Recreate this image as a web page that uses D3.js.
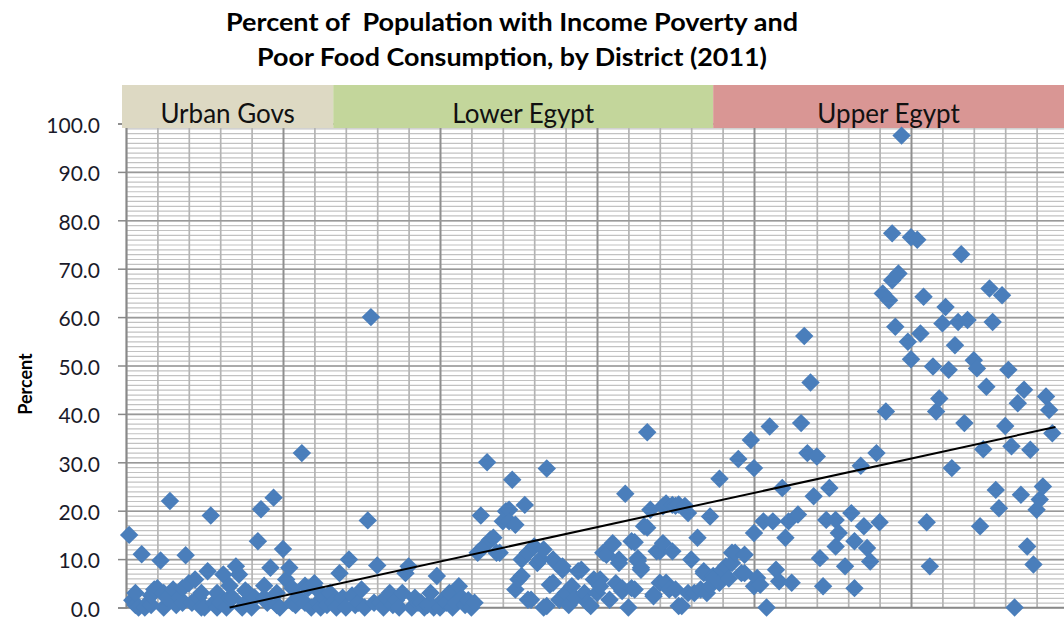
<!DOCTYPE html>
<html>
<head>
<meta charset="utf-8">
<script src="https://cdnjs.cloudflare.com/ajax/libs/d3/7.8.5/d3.min.js"></script>
<style>
  body { margin: 0; background: #fff; }
  svg { display: block; font-family: Lato, "Open Sans", sans-serif; }
</style>
</head>
<body>
<div id="chart"></div>
<script>
var titleLines = [
  "Percent of  Population with Income Poverty and",
  "Poor Food Consumption, by District (2011)"
];
var yLabel = "Percent";

// district groups along the x axis (district number where each group starts / ends)
var regionNames = ["Urban Govs", "Lower Egypt", "Upper Egypt"];
var regionBreaks = [0, 66, 187, 300];

var yTickValues = [0, 10, 20, 30, 40, 50, 60, 70, 80, 90, 100];

// [district number, percent]
var urbanGovs = [
  [1,15],[2,1.5],[3,0.5],[3,3],[4,0],[5,11],[6,0],[7,1],[8,0.5],[8,2.5],[9,3.7],[10,4],
  [11,9.7],[12,0],[12,3],[13,2],[14,22],[15,3.7],[16,0.5],[17,2],[18,1],[18,4],[19,10.8],
  [20,5],[21,1],[22,5.8],[23,2],[24,0],[24,3],[25,0],[26,7.5],[27,19],[28,1],[29,3],[29,0],
  [30,1],[31,6.8],[32,0],[33,2],[33,4.5],[34,2],[35,8.5],[36,6.8],[37,0],[38,1],[38,3.5],
  [39,3],[40,0],[41,2],[42,13.7],[43,20.3],[44,2],[44,4.5],[45,1],[46,8.2],[47,22.7],
  [48,0.5],[48,3],[49,0],[50,12.1],[51,5.8],[52,8.2],[53,4],[53,1],[54,0.5],[55,2],
  [56,31.9],[57,1],[57,4.5],[58,4],[59,0],[60,5],[61,1],[62,0],[62,3],[63,2],[64,0.5],[65,3]
];
var lowerEgypt = [
  [66,1],[67,0],[68,7.1],[69,2],[70,0],[71,9.9],[72,2.5],[73,0.5],[74,1],[75,3.7],[76,0],
  [77,18],[78,60],[79,1],[80,8.7],[81,1],[82,0],[83,2],[84,3],[85,0.5],[86,1.5],[87,0],
  [88,3],[89,7.1],[90,8.5],[91,0],[92,2],[93,1],[94,1],[95,0],[96,0.5],[97,3],[98,0],
  [99,6.5],[100,0],[101,1.6],[102,1],[103,3],[104,0],[105,1],[106,4.4],[107,2],[108,0.5],
  [109,1.5],[110,0],[111,1],[112,11.3],[113,19],[114,12.6],[115,30],[116,14],[117,14.4],
  [118,11.3],[119,11.3],[120,17.8],[121,19.9],[122,20.2],[122,17.8],[123,26.4],[124,17.1],
  [124,3.7],[125,5.8],[126,6.5],[126,9.9],[127,21.2],[128,11.3],[128,1.6],[129,1.6],
  [130,12.6],[131,9.2],[132,10],[133,12],[133,0],[134,28.7],[134,0.3],[135,4.7],[136,9.9],
  [136,5.1],[137,9.2],[138,1.6],[139,7.8],[139,8.5],[140,3],[141,0.5],[142,4.4],[143,2],
  [144,7.5],[145,7.8],[146,3],[147,1],[148,0.3],[149,5.8],[150,3],[151,5.8],[151,4.4],
  [152,11.3],[153,10.9],[154,1.6],[155,13],[155,13.3],[156,5],[157,9.9],[157,9.2],[158,3.4],
  [158,4],[159,23.5],[160,0],[161,13.7],[161,4],[162,13.5],[162,3.7],[163,10.2],[163,9.6],
  [164,8.2],[164,7.8],[165,16.8],[166,16.5],[166,36.2],[167,20.2],[168,2.7],[168,2.3],
  [169,11.6],[170,11.6],[170,5.1],[171,13.3],[171,20.9],[172,21.5],[172,5.1],[173,3.7],
  [174,11.6],[174,21.2],[175,21],[175,3.7],[176,21.3],[176,0.3],[177,0.3],[178,21],[179,3],
  [179,19.5],[180,9.9],[181,3],[182,14.4],[183,3.7],[184,7.5],[184,7.1],[185,3],[186,4.4],
  [186,18.8]
];
var upperEgypt = [
  [187,6.5],[187,5.8],[189,26.6],[189,5.1],[190,7.8],[191,8.5],[192,6],[193,11.3],[193,9.2],
  [194,11.3],[195,30.7],[196,7.1],[197,10.9],[197,7.1],[199,34.6],[200,28.8],[200,15.4],
  [200,4.4],[201,6.1],[202,4.7],[203,17.8],[204,0],[205,37.4],[206,17.8],[207,7.8],[208,5.4],
  [209,24.7],[210,14.4],[211,17.8],[212,5.1],[214,19.2],[215,38.1],[216,56.1],[217,31.9],
  [218,46.5],[219,23],[220,31.2],[221,10.2],[222,4.4],[223,18.1],[224,24.7],[226,18.1],
  [226,12.6],[227,15.4],[229,8.5],[231,19.5],[232,4],[232,13.7],[234,29.3],[235,16.8],
  [236,12.3],[237,9.5],[239,31.9],[240,17.6],[241,64.9],[242,40.5],[243,63.5],[244,77.3],
  [244,67.6],[245,58],[246,69],[247,97.5],[249,54.9],[250,51.3],[250,76.5],[252,76],
  [253,56.6],[254,64.2],[255,17.6],[256,8.5],[257,49.8],[258,40.5],[259,43.2],[260,58.7],
  [261,62.1],[262,49.1],[263,28.8],[264,54.2],[265,59],[266,73],[267,38.1],[268,59.4],
  [270,51.1],[271,49.4],[272,16.8],[273,32.7],[274,45.6],[275,65.9],[276,59],[277,24.3],
  [278,20.5],[279,64.5],[280,37.5],[281,49.1],[282,33.3],[283,0],[284,42.2],[285,23.3],
  [286,45],[287,12.6],[288,32.6],[289,8.9],[290,20.2],[291,22.3],[292,25],[293,43.6],
  [294,40.8],[295,36]
];

// linear trend: [district number, percent]
var trendLine = [[33, 0], [296, 37.3]];

var width = 1064, height = 622;
var bandTop = 85, bandBottom = 128;
var bandFill = ["#ddd9c3", "#c3d69b", "#d99694"];
var pointColour = "#4a7ebb";
// widths the two title lines take up in the source
var titleWidths = [572, 510];

var x = d3.scaleLinear().domain([0, 300]).range([126, 1068]);
var y = d3.scaleLinear().domain([0, 100]).range([607.5, 123.5]);

var svg = d3.select("#chart").append("svg")
  .attr("width", width)
  .attr("height", height);

svg.append("rect").attr("width", width).attr("height", height).attr("fill", "#fff");

// title (keep the double space after "of")
svg.append("g").selectAll("text")
  .data(titleLines)
  .enter().append("text")
  .attr("x", 512)
  .attr("y", function(d, i) { return 31 + i * 35; })
  .attr("text-anchor", "middle")
  .attr("font-size", 24)
  .attr("font-weight", "bold")
  .attr("fill", "#000")
  .style("white-space", "pre")
  .attr("textLength", function(d, i) { return titleWidths[i]; })
  .attr("lengthAdjust", "spacingAndGlyphs")
  .text(function(d) { return d; });

// minor horizontal grid every 1
var plotRight = x.range()[1];
svg.append("g")
  .attr("class", "grid-minor-y")
  .attr("transform", "translate(" + x(0) + ",0)")
  .call(d3.axisLeft(y).tickValues(d3.range(0, 101, 1)).tickSize(-(plotRight - x(0))).tickFormat(""))
  .call(function(g) {
    g.select(".domain").remove();
    g.selectAll("line").attr("stroke", "#c2c2c2").attr("stroke-width", 1.2);
  });

// vertical grid, every 10 districts, darker every 50
svg.append("g")
  .attr("class", "grid-x")
  .attr("transform", "translate(0," + y(0) + ")")
  .call(d3.axisBottom(x).tickValues(d3.range(0, 301, 10)).tickSize(-(y(0) - y(100))).tickFormat(""))
  .call(function(g) {
    g.select(".domain").remove();
    g.selectAll("line")
      .attr("stroke", function(d) { return d % 50 === 0 ? "#8f8f8f" : "#b4b4b4"; })
      .attr("stroke-width", function(d) { return d % 50 === 0 ? 2 : 1.7; });
  });

// major horizontal grid every 10
svg.append("g")
  .attr("class", "grid-major-y")
  .attr("transform", "translate(" + x(0) + ",0)")
  .call(d3.axisLeft(y).tickValues(yTickValues).tickSize(-(plotRight - x(0))).tickFormat(""))
  .call(function(g) {
    g.select(".domain").remove();
    g.selectAll("line").attr("stroke", "#999").attr("stroke-width", 1.6);
  });

// y axis
svg.append("g")
  .attr("class", "y-axis")
  .attr("transform", "translate(" + x(0) + ",0)")
  .call(d3.axisLeft(y).tickValues(yTickValues).tickSize(8).tickPadding(18).tickFormat(d3.format(".1f")))
  .call(function(g) {
    g.select(".domain").attr("stroke", "#888").attr("stroke-width", 1.5);
    g.selectAll("line").attr("stroke", "#888").attr("stroke-width", 1.5);
    g.selectAll("text")
      .attr("font-size", 21)
      .attr("font-family", "Lato, sans-serif")
      .attr("fill", "#1a1a2a")
      .attr("dy", "0.42em");
  });

// x axis line
svg.append("line")
  .attr("x1", x(0)).attr("x2", plotRight)
  .attr("y1", y(0)).attr("y2", y(0))
  .attr("stroke", "#888").attr("stroke-width", 1.5);

svg.append("text")
  .attr("transform", "translate(32,384) rotate(-90)")
  .attr("text-anchor", "middle")
  .attr("font-size", 18)
  .attr("font-weight", "bold")
  .attr("fill", "#000")
  .text(yLabel);

// region header bands
var bands = svg.append("g").attr("class", "bands");
regionNames.forEach(function(name, i) {
  var x0 = i === 0 ? x(regionBreaks[i]) - 4 : x(regionBreaks[i]);
  var x1 = Math.min(x(regionBreaks[i + 1]), width);
  bands.append("rect")
    .attr("x", x0).attr("y", bandTop)
    .attr("width", x1 - x0).attr("height", bandBottom - bandTop)
    .attr("fill", bandFill[i]);
  bands.append("text")
    .attr("x", (x0 + x1) / 2)
    .attr("y", 123)
    .attr("text-anchor", "middle")
    .attr("font-size", 26)
    .attr("fill", "#111")
    .text(name);
});

var trend = d3.line()
  .x(function(d) { return x(d[0]); })
  .y(function(d) { return y(d[1]); });

// districts
var points = urbanGovs.concat(lowerEgypt, upperEgypt);
var diamond = d3.symbol().type(d3.symbolSquare).size(170);

svg.append("g").attr("class", "districts")
  .selectAll("path")
  .data(points)
  .enter().append("path")
  .attr("d", diamond)
  .attr("transform", function(d) {
    return "translate(" + x(d[0]) + "," + y(d[1]) + ") rotate(45)";
  })
  .attr("fill", pointColour);

// trend line sits on top of the markers
svg.append("path")
  .datum(trendLine)
  .attr("d", trend)
  .attr("fill", "none")
  .attr("stroke", "#000")
  .attr("stroke-width", 2);
</script>
</body>
</html>
